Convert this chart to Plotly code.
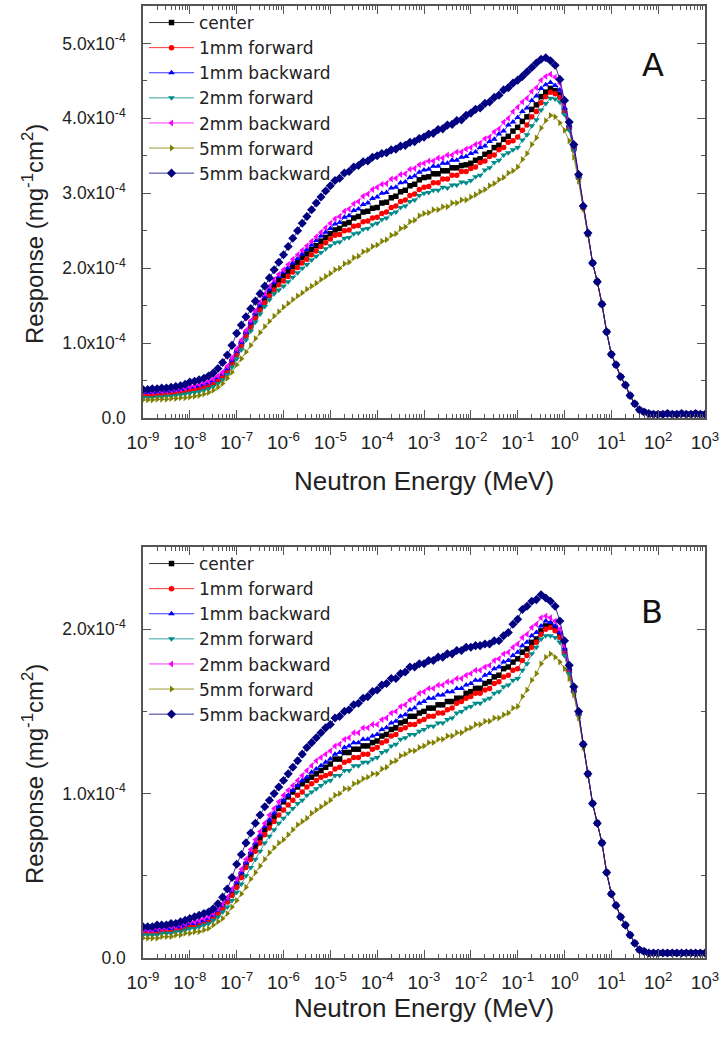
import plotly.graph_objects as go

# neutron energies (MeV), 10 points per decade from 1e-9 to 1e3
energy_mev = [
    1.00e-9, 1.26e-9, 1.58e-9, 2.00e-9, 2.51e-9, 3.16e-9, 3.98e-9, 5.01e-9, 6.31e-9, 7.94e-9,
    1.00e-8, 1.26e-8, 1.58e-8, 2.00e-8, 2.51e-8, 3.16e-8, 3.98e-8, 5.01e-8, 6.31e-8, 7.94e-8,
    1.00e-7, 1.26e-7, 1.58e-7, 2.00e-7, 2.51e-7, 3.16e-7, 3.98e-7, 5.01e-7, 6.31e-7, 7.94e-7,
    1.00e-6, 1.26e-6, 1.58e-6, 2.00e-6, 2.51e-6, 3.16e-6, 3.98e-6, 5.01e-6, 6.31e-6, 7.94e-6,
    1.00e-5, 1.26e-5, 1.58e-5, 2.00e-5, 2.51e-5, 3.16e-5, 3.98e-5, 5.01e-5, 6.31e-5, 7.94e-5,
    1.00e-4, 1.26e-4, 1.58e-4, 2.00e-4, 2.51e-4, 3.16e-4, 3.98e-4, 5.01e-4, 6.31e-4, 7.94e-4,
    1.00e-3, 1.26e-3, 1.58e-3, 2.00e-3, 2.51e-3, 3.16e-3, 3.98e-3, 5.01e-3, 6.31e-3, 7.94e-3,
    1.00e-2, 1.26e-2, 1.58e-2, 2.00e-2, 2.51e-2, 3.16e-2, 3.98e-2, 5.01e-2, 6.31e-2, 7.94e-2,
    1.00e-1, 1.26e-1, 1.58e-1, 2.00e-1, 2.51e-1, 3.16e-1, 3.98e-1, 5.01e-1, 6.31e-1, 7.94e-1,
    1.00e0, 1.26e0, 1.58e0, 2.00e0, 2.51e0, 3.16e0, 3.98e0, 5.01e0, 6.31e0, 7.94e0,
    1.00e1, 1.26e1, 1.58e1, 2.00e1, 2.51e1, 3.16e1, 3.98e1, 5.01e1, 6.31e1, 7.94e1,
    1.00e2, 1.26e2, 1.58e2, 2.00e2, 2.51e2, 3.16e2, 3.98e2, 5.01e2, 6.31e2, 7.94e2,
    1.00e3,
]

# responses in units of 1e-6 mg^-1 cm^2, energies 1e-9 .. 7.94 MeV (100 pts)
# panel A
center_a = [
    32, 32, 32, 33, 33, 34, 34, 35, 36, 37,
    39, 40, 41, 43, 45, 48, 52, 57, 64, 75,
    87, 99, 112, 125, 137, 149, 159, 169, 177, 184,
    190, 196, 202, 208, 214, 219, 225, 230, 236, 241,
    246, 251, 253, 259, 261, 267, 269, 275, 276, 280,
    281, 287, 288, 294, 296, 302, 304, 310, 312, 318,
    321, 322, 326, 326, 330, 330, 334, 334, 337, 338,
    340, 344, 346, 352, 354, 361, 364, 372, 376, 383,
    388, 396, 402, 412, 418, 429, 435, 440, 437, 432,
    410, 388, 360, 322, 282, 246, 207, 182, 152, 115,
]
fwd1_a = [
    30, 30, 30, 31, 31, 32, 32, 33, 34, 35,
    37, 38, 39, 41, 43, 46, 50, 55, 62, 72,
    84, 96, 109, 121, 133, 144, 154, 163, 171, 178,
    183, 189, 195, 201, 207, 212, 218, 223, 229, 234,
    239, 244, 245, 250, 251, 256, 257, 262, 263, 267,
    268, 273, 275, 281, 283, 289, 291, 297, 299, 305,
    308, 309, 314, 314, 319, 319, 324, 324, 329, 329,
    333, 335, 341, 343, 349, 351, 358, 361, 368, 370,
    375, 384, 391, 402, 409, 421, 429, 435, 433, 428,
    408, 386, 358, 321, 281, 246, 207, 182, 152, 115,
]
bwd1_a = [
    34, 34, 34, 35, 35, 36, 36, 37, 38, 39,
    41, 42, 43, 45, 47, 50, 54, 59, 66, 77,
    89, 101, 114, 127, 140, 151, 162, 172, 181, 189,
    195, 201, 207, 213, 219, 225, 231, 237, 243, 248,
    253, 259, 261, 268, 270, 277, 279, 285, 287, 293,
    295, 300, 301, 307, 308, 314, 315, 321, 323, 328,
    331, 332, 336, 336, 340, 340, 344, 344, 348, 349,
    353, 355, 361, 363, 369, 372, 379, 383, 391, 395,
    401, 409, 414, 424, 430, 440, 445, 448, 444, 438,
    414, 390, 362, 323, 282, 246, 207, 182, 152, 115,
]
fwd2_a = [
    27, 27, 27, 28, 28, 29, 29, 30, 31, 32,
    33, 34, 35, 37, 39, 42, 46, 51, 58, 68,
    79, 91, 104, 116, 128, 139, 149, 158, 166, 171,
    176, 182, 188, 194, 200, 205, 211, 216, 221, 226,
    230, 234, 235, 240, 241, 246, 247, 252, 253, 258,
    260, 265, 267, 273, 275, 281, 283, 289, 291, 297,
    300, 301, 304, 304, 308, 307, 311, 311, 315, 314,
    317, 322, 324, 331, 334, 341, 344, 351, 354, 358,
    361, 371, 378, 390, 398, 411, 420, 427, 426, 422,
    405, 384, 357, 320, 281, 246, 207, 182, 152, 115,
]
bwd2_a = [
    35, 35, 35, 36, 36, 37, 37, 38, 39, 40,
    42, 43, 45, 47, 49, 52, 56, 61, 69, 80,
    92, 104, 117, 130, 143, 155, 166, 176, 185, 192,
    198, 205, 212, 218, 224, 230, 236, 242, 248, 254,
    260, 266, 269, 276, 279, 286, 289, 296, 299, 305,
    308, 312, 313, 319, 320, 325, 326, 332, 333, 338,
    340, 343, 343, 347, 347, 351, 351, 355, 355, 359,
    361, 365, 367, 373, 375, 382, 386, 395, 400, 409,
    415, 422, 427, 436, 441, 451, 456, 459, 455, 447,
    420, 393, 364, 324, 283, 247, 207, 182, 152, 115,
]
fwd5_a = [
    24, 24, 24, 25, 25, 25, 26, 26, 27, 27,
    28, 29, 30, 32, 34, 37, 41, 46, 53, 61,
    71, 79, 88, 97, 106, 114, 122, 129, 136, 142,
    148, 153, 158, 163, 167, 172, 176, 180, 185, 189,
    193, 198, 200, 206, 208, 214, 216, 222, 224, 229,
    231, 236, 238, 244, 246, 253, 255, 262, 264, 270,
    273, 274, 278, 278, 282, 282, 287, 287, 291, 291,
    295, 298, 302, 305, 310, 313, 318, 321, 327, 330,
    335, 345, 353, 365, 374, 387, 397, 404, 402, 394,
    384, 370, 348, 316, 279, 245, 207, 182, 152, 115,
]
bwd5_a = [
    38, 38, 39, 39, 40, 40, 41, 42, 43, 45,
    48, 49, 51, 53, 56, 60, 66, 74, 84, 97,
    113, 124, 135, 146, 156, 166, 176, 187, 198, 208,
    218, 229, 240, 250, 260, 269, 278, 287, 295, 303,
    310, 317, 320, 327, 329, 335, 337, 342, 343, 348,
    350, 353, 354, 358, 359, 363, 364, 368, 369, 373,
    375, 379, 380, 385, 386, 391, 392, 397, 398, 404,
    407, 412, 414, 420, 422, 428, 431, 438, 441, 447,
    451, 456, 462, 468, 474, 479, 481, 477, 471, 452,
    424, 395, 365, 325, 283, 247, 207, 182, 152, 115,
]
# 10 .. 1000 MeV, all positions coincide
tail_a = [85, 71, 55, 44, 30, 19, 11, 8, 6, 5, 5, 5, 6, 5, 5, 6, 5, 5, 6, 5, 5]

# panel B
center_b = [
    16, 16, 16, 16, 17, 17, 17, 18, 18, 19,
    20, 20, 21, 22, 23, 25, 28, 31, 35, 40,
    45, 51, 57, 63, 68, 73, 78, 82, 86, 91,
    95, 98, 101, 104, 106, 108, 110, 112, 114, 116,
    118, 121, 121, 125, 125, 127, 127, 129, 129, 131,
    132, 135, 136, 139, 140, 143, 144, 147, 147, 149,
    150, 152, 152, 154, 154, 156, 156, 158, 158, 161,
    162, 164, 164, 167, 168, 171, 172, 176, 177, 180,
    182, 186, 188, 192, 194, 199, 202, 203, 201, 197,
    187, 175, 163, 149, 130, 112, 94, 82, 70, 52,
]
fwd1_b = [
    15, 15, 15, 15, 16, 16, 16, 17, 17, 18,
    19, 19, 20, 21, 22, 24, 27, 30, 34, 38,
    43, 49, 55, 60, 65, 70, 75, 79, 83, 87,
    90, 93, 96, 99, 101, 104, 106, 108, 110, 111,
    112, 115, 116, 119, 120, 122, 122, 124, 124, 127,
    128, 131, 132, 135, 136, 139, 140, 142, 142, 144,
    145, 147, 147, 149, 149, 151, 152, 155, 156, 158,
    159, 161, 161, 163, 164, 167, 168, 171, 172, 175,
    176, 181, 184, 189, 192, 197, 200, 201, 199, 195,
    186, 174, 162, 148, 130, 112, 94, 82, 70, 52,
]
bwd1_b = [
    17, 17, 17, 17, 18, 18, 18, 19, 19, 20,
    21, 21, 22, 23, 24, 26, 29, 32, 36, 41,
    46, 52, 58, 64, 70, 75, 80, 84, 88, 92,
    96, 99, 102, 105, 108, 110, 113, 115, 117, 119,
    121, 124, 125, 128, 129, 131, 131, 133, 133, 135,
    136, 139, 140, 143, 144, 147, 148, 151, 152, 155,
    156, 158, 158, 160, 160, 162, 162, 164, 164, 166,
    167, 169, 169, 172, 173, 176, 177, 180, 181, 184,
    186, 190, 192, 196, 198, 202, 205, 204, 202, 198,
    188, 176, 163, 149, 130, 112, 94, 82, 70, 52,
]
fwd2_b = [
    14, 14, 14, 14, 15, 15, 15, 16, 16, 17,
    18, 18, 19, 20, 21, 23, 25, 28, 31, 35,
    40, 45, 50, 55, 60, 65, 70, 74, 78, 82,
    85, 88, 91, 94, 96, 99, 101, 103, 105, 107,
    108, 111, 111, 114, 114, 117, 117, 119, 119, 121,
    122, 125, 126, 129, 130, 133, 134, 136, 136, 138,
    139, 141, 141, 143, 143, 145, 146, 149, 150, 152,
    153, 155, 155, 157, 158, 161, 162, 165, 166, 169,
    170, 175, 179, 185, 189, 194, 196, 196, 195, 192,
    184, 173, 161, 147, 129, 112, 94, 82, 70, 52,
]
bwd2_b = [
    17, 17, 17, 18, 18, 18, 19, 19, 20, 21,
    22, 22, 23, 24, 25, 27, 30, 33, 37, 42,
    48, 54, 60, 66, 72, 77, 82, 87, 91, 95,
    99, 102, 105, 108, 111, 114, 117, 120, 122, 124,
    126, 129, 130, 133, 134, 137, 137, 140, 140, 142,
    142, 145, 146, 149, 150, 153, 154, 157, 158, 161,
    162, 164, 164, 166, 166, 168, 168, 170, 170, 172,
    173, 175, 175, 177, 178, 181, 182, 185, 186, 189,
    191, 195, 197, 201, 203, 207, 208, 207, 205, 200,
    190, 177, 164, 149, 130, 112, 94, 82, 70, 52,
]
fwd5_b = [
    12, 12, 12, 12, 13, 13, 13, 14, 14, 15,
    15, 16, 16, 17, 18, 20, 22, 24, 27, 31,
    35, 39, 43, 48, 52, 56, 60, 64, 67, 70,
    72, 75, 78, 81, 83, 85, 88, 90, 92, 94,
    96, 99, 100, 103, 103, 106, 107, 109, 110, 112,
    112, 115, 116, 119, 120, 123, 124, 126, 126, 128,
    129, 131, 131, 133, 133, 135, 135, 137, 137, 139,
    140, 142, 142, 144, 144, 146, 146, 148, 149, 152,
    153, 159, 163, 169, 173, 179, 183, 185, 183, 180,
    176, 170, 160, 146, 128, 111, 94, 82, 70, 52,
]
bwd5_b = [
    19, 19, 19, 20, 20, 20, 21, 21, 22, 23,
    24, 25, 26, 27, 28, 30, 33, 37, 42, 49,
    57, 63, 70, 76, 82, 87, 92, 96, 100, 104,
    108, 112, 116, 120, 124, 128, 131, 134, 137, 140,
    142, 146, 147, 150, 151, 154, 155, 158, 159, 162,
    163, 166, 167, 170, 170, 173, 174, 177, 177, 179,
    179, 181, 181, 183, 183, 185, 185, 187, 187, 189,
    189, 190, 190, 191, 191, 193, 193, 196, 198, 203,
    206, 212, 214, 217, 218, 221, 219, 217, 214, 205,
    193, 178, 165, 150, 130, 112, 94, 82, 70, 52,
]
tail_b = [39, 32, 25, 20, 14, 9, 5, 4, 3, 3, 3, 3, 3, 3, 3, 3, 3, 3, 3, 3, 3]

names = ["center", "1mm forward", "1mm backward", "2mm forward",
         "2mm backward", "5mm forward", "5mm backward"]
colors = ["black", "#ff0000", "#0000ff", "#008b8b", "#ff00ff", "#808000", "#000080"]
symbols = ["square", "circle", "triangle-up", "triangle-down",
           "triangle-left", "triangle-right", "diamond"]
sizes = [5.5, 5.5, 6, 6, 6, 6, 7]
data_a = [center_a, fwd1_a, bwd1_a, fwd2_a, bwd2_a, fwd5_a, bwd5_a]
data_b = [center_b, fwd1_b, bwd1_b, fwd2_b, bwd2_b, fwd5_b, bwd5_b]

FONT = "Liberation Sans, Arial, sans-serif"
W, H = 721, 1037

fig = go.Figure()
for i in range(len(names)):
    for vals, tail, ax, leg in [(data_a[i], tail_a, "", "legend"),
                                (data_b[i], tail_b, "2", "legend2")]:
        fig.add_trace(go.Scatter(
            x=energy_mev,
            y=[v * 1e-6 for v in vals + tail],
            mode="lines+markers",
            name=names[i],
            line=dict(color=colors[i], width=0.8),
            marker=dict(symbol=symbols[i], size=sizes[i], color=colors[i]),
            xaxis="x" + ax, yaxis="y" + ax,
            legend=leg,
        ))

xticks = [10.0 ** e for e in range(-9, 4)]
xtext = ["10<sup>%d</sup>" % e for e in range(-9, 4)]
xminor = [m * 10.0 ** e for e in range(-9, 3) for m in range(2, 10)]

axis_style = dict(
    showline=True, linecolor="#555", linewidth=1.5, mirror="allticks",
    ticks="inside", ticklen=8, tickwidth=1.2, tickcolor="#555",
    showgrid=False, zeroline=False, automargin=False,
)

def xaxis(anchor):
    return dict(
        axis_style, type="log", range=[-9, 3], domain=[143 / W, 705 / W],
        tickmode="array", tickvals=xticks, ticktext=xtext,
        tickfont=dict(family=FONT, size=19, color="#222"),
        ticklabelstandoff=6,
        minor=dict(tickmode="array", tickvals=xminor, ticks="inside",
                   ticklen=4, tickcolor="#555", showgrid=False),
        anchor=anchor,
    )

def yaxis(top_px, bot_px, ymax, major, anchor):
    return dict(
        axis_style, range=[0, ymax],
        domain=[1 - bot_px / H, 1 - top_px / H],
        tickmode="array", tickvals=[m * 1e-4 for m in major],
        ticktext=["0.0" if m == 0 else "%.1fx10<sup>-4</sup>" % m for m in major],
        tickfont=dict(family=FONT, size=17.5, color="#222"),
        minor=dict(tickmode="array",
                   tickvals=[(m + 0.5) * 1e-4 for m in major],
                   ticks="inside", ticklen=4, tickcolor="#555", showgrid=False),
        ticklabelstandoff=12,
        anchor=anchor,
    )

legend_style = dict(
    x=144 / W, xanchor="left", yanchor="top", bgcolor="rgba(0,0,0,0)",
    font=dict(family="DejaVu Sans", size=17, color="#222"),
    tracegroupgap=0, itemwidth=45,
)

annotations = []
for label, lx, ly, ty, xy in [("A", 653, 65, 234, 481), ("B", 652, 612, 774, 1008)]:
    annotations.append(dict(text=label, x=lx / W, y=1 - ly / H,
                            font=dict(family="DejaVu Sans", size=32, color="#111")))
    annotations.append(dict(text="Response (mg<sup>-1</sup>cm<sup>2</sup>)", textangle=-90,
                            x=33 / W, y=1 - ty / H,
                            font=dict(family=FONT, size=24, color="#222")))
    annotations.append(dict(text="Neutron Energy (MeV)", x=424 / W, y=1 - xy / H,
                            font=dict(family=FONT, size=26, color="#222")))
for a in annotations:
    a.update(xref="paper", yref="paper", xanchor="center", yanchor="middle", showarrow=False)

fig.update_layout(
    width=W, height=H,
    margin=dict(l=0, r=0, t=0, b=0),
    paper_bgcolor="white", plot_bgcolor="white",
    font=dict(family=FONT),
    xaxis=xaxis("y"),
    yaxis=yaxis(6, 418, 5.5e-4, [0, 1, 2, 3, 4, 5], "x"),
    xaxis2=xaxis("y2"),
    yaxis2=yaxis(547, 958, 2.5e-4, [0, 1, 2], "x2"),
    legend=dict(legend_style, y=1 - 5 / H),
    legend2=dict(legend_style, y=1 - 546 / H),
    annotations=annotations,
    showlegend=True,
)

# page body has a default 8px margin; drop it so the figure sits at (0, 0)
fig.write_html("out.html", config={"displayModeBar": False},
               post_script="document.body.style.margin='0';")
